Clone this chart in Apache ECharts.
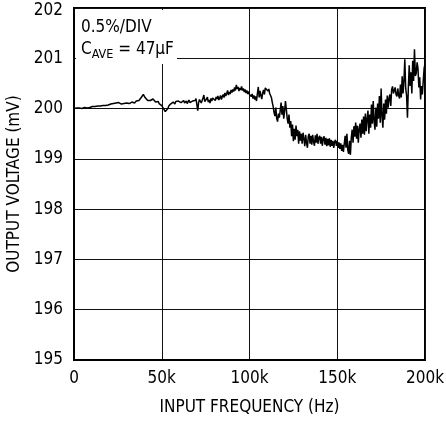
<!DOCTYPE html>
<html>
<head>
<meta charset="utf-8">
<script src="https://cdn.jsdelivr.net/npm/echarts@6/dist/echarts.min.js"></script>
<style>
html,body{margin:0;padding:0;background:#fff;}
#chart{width:446px;height:423px;}
</style>
</head>
<body>
<div id="chart"></div>
<script>
// Input frequency step (kHz) between consecutive samples
var freqStepKHz = 0.5;
// Output voltage samples (mV), 0k..200k in 0.5k steps
var outputVoltage = [
200.00,200.00,200.00,200.01,200.00,200.00,200.01,200.01,200.02,200.00,
200.01,200.02,200.02,200.03,200.02,200.01,200.02,200.03,200.02,200.03,
200.03,200.04,200.03,200.03,200.04,200.05,200.04,200.05,200.04,200.06,
200.05,200.06,200.07,200.06,200.07,200.08,200.06,200.07,200.08,200.07,
200.08,200.07,200.09,200.08,200.09,200.10,200.08,200.10,200.11,200.09,
200.10,200.12,200.10,200.11,200.09,200.11,200.12,200.10,200.11,200.10,
200.11,200.12,200.11,200.10,200.12,200.11,200.13,200.12,200.13,200.11,
200.13,200.15,200.14,200.17,200.16,200.15,200.19,200.23,200.26,200.28,
200.26,200.22,200.25,200.19,200.16,200.14,200.18,200.16,200.18,200.15,
200.19,200.21,200.16,200.13,200.12,200.16,200.14,200.10,200.11,200.08,
200.06,200.03,200.00,199.97,199.94,199.92,199.96,200.00,200.05,200.07,
200.09,200.06,200.10,200.13,200.11,200.09,200.14,200.12,200.17,200.15,
200.13,200.17,200.12,200.09,200.14,200.16,200.11,200.13,200.15,200.10,
200.13,200.17,200.12,200.14,200.10,200.15,200.18,200.13,200.16,200.20,
200.17,199.96,200.12,200.18,200.15,200.11,200.16,200.21,200.27,200.14,
200.12,200.19,200.23,200.13,200.17,200.11,200.20,200.15,200.21,200.18,
200.22,200.16,200.23,200.19,200.25,200.17,200.21,200.26,200.18,200.24,
200.28,200.22,200.31,200.25,200.30,200.36,200.27,200.33,200.29,200.37,
200.32,200.38,200.34,200.42,200.36,200.47,200.39,200.43,200.35,200.41,
200.37,200.44,200.36,200.40,200.33,200.38,200.31,200.36,200.29,200.34,
200.28,200.31,200.24,200.29,200.20,200.26,200.18,200.24,200.15,200.30,
200.43,200.22,200.35,200.26,200.19,200.31,200.37,200.28,200.41,200.44,
200.40,200.35,200.39,200.30,200.33,200.22,200.12,200.04,199.92,199.85,
200.02,199.80,199.74,199.90,199.82,199.96,200.12,199.88,200.05,199.80,
199.95,200.15,199.98,199.80,199.70,199.88,199.62,199.75,199.45,199.68,
199.35,199.60,199.38,199.66,199.45,199.58,199.30,199.55,199.36,199.50,
199.30,199.52,199.40,199.25,199.48,199.32,199.22,199.45,199.50,199.30,
199.46,199.28,199.48,199.34,199.26,199.47,199.32,199.50,199.30,199.42,
199.46,199.30,199.44,199.26,199.40,199.45,199.28,199.42,199.25,199.40,
199.27,199.41,199.24,199.38,199.26,199.36,199.22,199.34,199.38,199.26,
199.35,199.22,199.33,199.20,199.31,199.16,199.28,199.14,199.30,199.46,
199.22,199.50,199.18,199.10,199.36,199.08,199.42,199.58,199.32,199.65,
199.44,199.72,199.40,199.66,199.32,199.60,199.70,199.42,199.78,199.50,
199.84,199.48,199.90,199.55,199.80,199.96,199.50,199.88,199.62,200.08,
199.70,200.15,199.75,199.58,200.02,199.64,200.10,199.80,200.25,199.72,
200.40,199.85,199.62,200.10,199.78,200.18,199.90,200.26,200.02,200.20,
200.28,200.05,200.38,200.44,200.30,200.36,200.42,200.28,200.24,200.40,
200.26,200.20,200.48,200.22,200.64,200.30,200.55,200.98,200.40,200.26,
199.82,200.40,200.86,200.45,200.72,200.30,200.95,200.55,201.18,200.65,
200.70,200.92,200.80,200.42,200.62,200.18,200.45,200.28,200.55,200.80,
200.89
];
var xTicks = [0, 50, 100, 150, 200];
var yTicks = [195, 196, 197, 198, 199, 200, 201, 202];
var xTitle = 'INPUT FREQUENCY (Hz)';
var yTitle = 'OUTPUT VOLTAGE (mV)';
var noteLine1 = '0.5%/DIV';

var FONT = "'DejaVu Sans Condensed','Liberation Sans Narrow','Liberation Sans',Arial,sans-serif";
var seriesData = outputVoltage.map(function(v, i){ return [i * freqStepKHz, v]; });
var yMax = yTicks[yTicks.length-1];

var chart = echarts.init(document.getElementById('chart'), null, {renderer:'canvas'});
chart.setOption({
  animation: false,
  backgroundColor: '#fff',
  grid: {left: 74, right: 21, top: 8, bottom: 63, show: true, borderColor: '#000', borderWidth: 2,
         containLabel: false, outerBoundsMode: 'none'},
  xAxis: {
    type: 'value', min: xTicks[0], max: xTicks[xTicks.length-1], interval: xTicks[1]-xTicks[0],
    name: xTitle, nameLocation: 'middle', nameGap: 39,
    nameTextStyle: {color: '#000', fontSize: 17, fontFamily: FONT},
    axisLine: {show: true, lineStyle: {color: '#000', width: 2}},
    axisTick: {show: false},
    axisLabel: {color: '#000', fontSize: 17, fontFamily: FONT, margin: 10,
      formatter: function(v){ return v === 0 ? '0' : v + 'k'; }},
    splitLine: {show: true, lineStyle: {color: '#111', width: 1}}
  },
  yAxis: {
    type: 'value', min: yTicks[0], max: yMax, interval: yTicks[1]-yTicks[0],
    name: yTitle, nameLocation: 'middle', nameGap: 48, nameRotate: 90,
    nameTextStyle: {color: '#000', fontSize: 17, fontFamily: FONT},
    axisLine: {show: true, lineStyle: {color: '#000', width: 2}},
    axisTick: {show: false},
    axisLabel: {color: '#000', fontSize: 17, fontFamily: FONT, margin: 11,
      formatter: function(v){ return v === yMax ? '{top|' + v + '}' : String(v); },
      rich: {top: {fontSize: 17, fontFamily: FONT, color: '#000', padding: [6,0,0,0]}}},
    splitLine: {show: true, lineStyle: {color: '#111', width: 1}}
  },
  graphic: [{
    type: 'rect', z: 50, silent: true,
    shape: {x: 76, y: 10, width: 101, height: 54},
    style: {fill: '#fff'}
  }],
  title: {
    z: 100, left: 81, top: 17, padding: 0, itemGap: 0,
    text: noteLine1 + '\n{c|C}{s|AVE}{c| = 47\u00b5F}',
    textStyle: {
      color: '#000', fontSize: 17, fontWeight: 'normal', fontFamily: FONT, lineHeight: 22,
      rich: {
        c: {fontSize: 17, fontFamily: FONT, color: '#000', lineHeight: 22},
        s: {fontSize: 12.5, fontFamily: FONT, color: '#000', lineHeight: 22, verticalAlign: 'bottom', padding: [5,0,0,0]}
      }
    }
  },
  series: [{
    type: 'line', data: seriesData, showSymbol: false, symbol: 'none', z: 10,
    lineStyle: {color: '#000', width: 1.5}
  }]
});
</script>
</body>
</html>
